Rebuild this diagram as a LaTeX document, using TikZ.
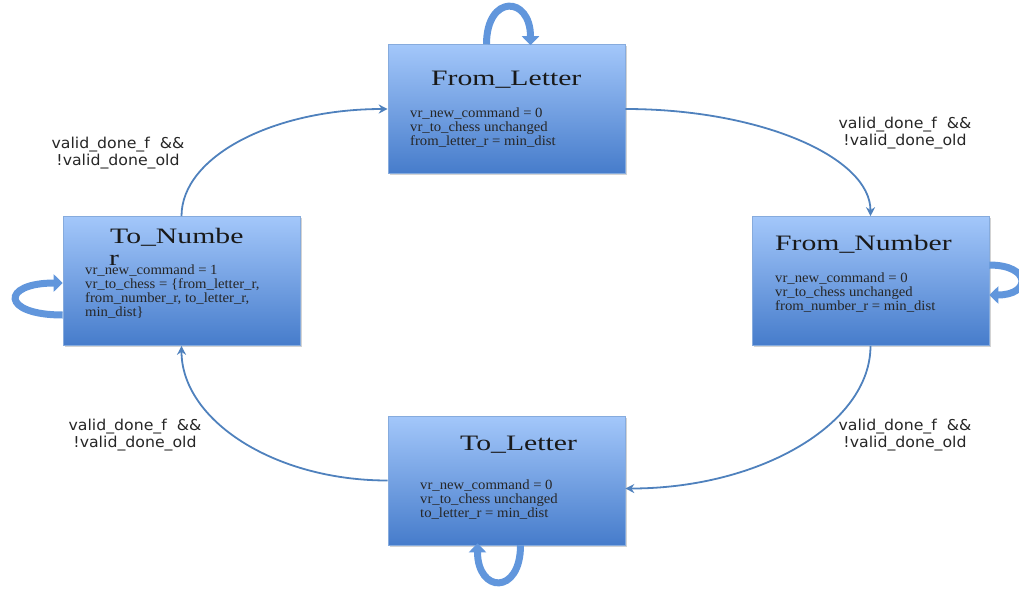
\documentclass[tikz,border=0pt]{standalone}
\usepackage{fontspec}
\setmainfont{Liberation Serif}[FakeStretch=1.05]
\newfontfamily\titlefont{Liberation Serif}[FakeStretch=1.35]
\newfontfamily\condfont{DejaVu Sans}[FakeStretch=1.05]
\usetikzlibrary{arrows.meta,shadows}
\definecolor{flowblue}{HTML}{4F81BD}
\definecolor{loopblue}{HTML}{6196DC}
\definecolor{boxtop}{HTML}{A3C7FA}
\definecolor{boxbot}{HTML}{467CCB}
\definecolor{boxline}{HTML}{86ABDD}
\tikzset{
  statebox/.style={rectangle, minimum width=237pt, minimum height=129pt,
    top color=boxtop, bottom color=boxbot, draw=boxline, line width=0.6pt,
    drop shadow={shadow xshift=1.5pt, shadow yshift=-1.5pt, opacity=0.35}},
  title/.style={font=\titlefont\fontsize{22}{26}\selectfont, anchor=base west, inner sep=0pt, text=black!90},
  body/.style={font=\fontsize{14}{14}\selectfont, anchor=north west, inner sep=0pt,
    align=left, text=black!85},
  cond/.style={font=\condfont\fontsize{15}{17.5}\selectfont, align=center, text=black!85},
  flow/.style={draw=flowblue, line width=1.8pt, -{Stealth[length=9pt,width=9pt]}},
  selfloop/.style={draw=loopblue, line width=7pt, -{Triangle[length=9pt,width=17pt]}}
}
\begin{document}
\begin{tikzpicture}[x=1pt,y=-1pt]
\useasboundingbox (0,0) rectangle (1019,590);

% states
\node[statebox] (fl) at (506.5,109) {};
\node[statebox] (tn) at (181.5,281) {};
\node[statebox] (fn) at (870.5,281) {};
\node[statebox] (tl) at (506.5,480.5) {};

% state texts
\node[title] (flt) at (431,85) {From\_Letter};
\node[body] (flb) at (410,108) {vr\_new\_command = 0\\vr\_to\_chess unchanged\\from\_letter\_r = min\_dist};

\node[title] (tnt) at (110,243) {To\_Numbe};
\node[title] (tnr) at (109,265) {r};
\node[body] (tnb) at (85,265) {vr\_new\_command = 1\\vr\_to\_chess = \{from\_letter\_r,\\from\_number\_r, to\_letter\_r,\\min\_dist\}};

\node[title] (fnt) at (775,250) {From\_Number};
\node[body] (fnb) at (775,273) {vr\_new\_command = 0\\vr\_to\_chess unchanged\\from\_number\_r = min\_dist};

\node[title] (tlt) at (460,450) {To\_Letter};
\node[body] (tlb) at (420,480) {vr\_new\_command = 0\\vr\_to\_chess unchanged\\to\_letter\_r = min\_dist};

% transitions
\draw[flow] (tn.north) .. controls +(0,-60) and +(-114,0) .. (fl.west);
\draw[flow] (fl.east) .. controls +(135,0) and +(0,-59) .. (fn.north);
\draw[flow] (fn.south) .. controls +(0,78) and +(135,0) .. ([yshift=-8pt]tl.east);
\draw[flow] (tl.west) .. controls +(-114,0) and +(0,74) .. (tn.south);

% transition conditions
\node[cond] (c1) at (118,153) {valid\_done\_f \ \&\&\\!valid\_done\_old};
\node[cond] (c2) at (905,133) {valid\_done\_f \ \&\&\\!valid\_done\_old};
\node[cond] (c3) at (135,435) {valid\_done\_f \ \&\&\\!valid\_done\_old};
\node[cond] (c4) at (905,435) {valid\_done\_f \ \&\&\\!valid\_done\_old};

% self loops
\draw[selfloop] ([xshift=-20pt]fl.north) .. controls +(0,-50) and +(0,-50) .. ([xshift=24pt,yshift=-1pt]fl.north);
\draw[selfloop] ([yshift=16pt]fn.east) .. controls +(42,0) and +(42,0) .. ([yshift=-14pt]fn.east);
\draw[selfloop] ([yshift=-34pt]tn.west) .. controls +(-62,0) and +(-62,0) .. ([yshift=-2pt]tn.west);
\draw[selfloop] ([xshift=14pt]tl.south) .. controls +(0,50) and +(0,50) .. ([xshift=-29pt,yshift=2pt]tl.south);
\end{tikzpicture}
\end{document}
